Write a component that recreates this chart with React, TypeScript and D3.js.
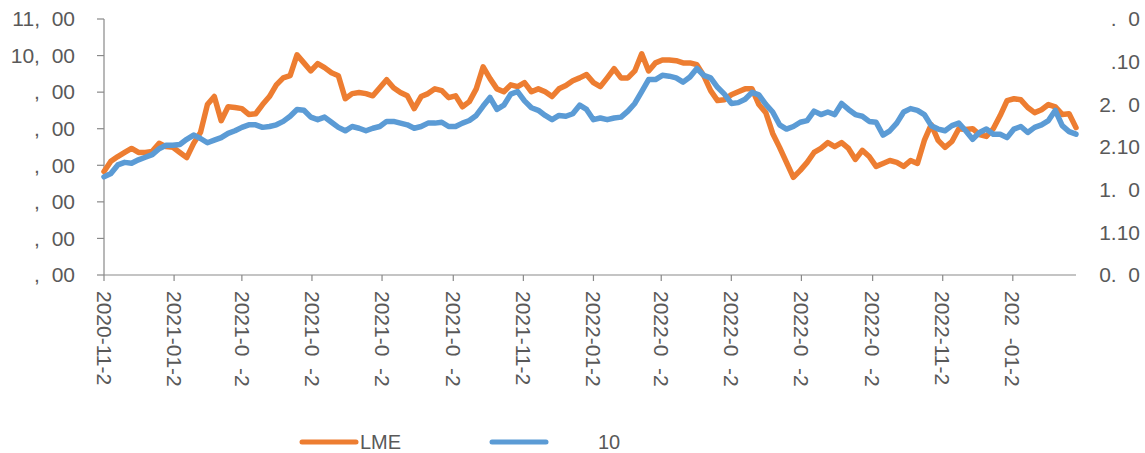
import React from 'react';
import * as d3 from 'd3';

// missing glyphs in the source picture are kept as blanks of digit width
const FS = '\u2007';

const startDate = new Date(2020, 10, 23);
const STEP_DAYS = 6;

const lmeCopper = [
  7330, 7610, 7740, 7850, 7960, 7850, 7850, 7880, 8100, 8010,
  7990, 7850, 7710, 8100, 8400, 9160, 9380, 8720, 9100, 9080,
  9050, 8890, 8910, 9160, 9380, 9700, 9890, 9950, 10520, 10300,
  10080, 10280, 10170, 10030, 9950, 9320, 9460, 9490, 9460, 9400,
  9620, 9840, 9620, 9490, 9400, 9050, 9380, 9460, 9590, 9540,
  9350, 9400, 9100, 9240, 9590, 10190, 9870, 9590, 9510, 9700,
  9650, 9760, 9510, 9590, 9510, 9380, 9590, 9680, 9810, 9890,
  9980, 9760, 9650, 9890, 10140, 9890, 9890, 10080, 10550, 10080,
  10300, 10380, 10380, 10360, 10300, 10300, 10250, 9950, 9540, 9270,
  9290, 9430, 9510, 9590, 9590, 9160, 8940, 8370, 7990, 7580,
  7170, 7360, 7580, 7850, 7960, 8120, 8010, 8120, 7960, 7660,
  7910, 7740, 7470, 7550, 7630, 7580, 7470, 7630, 7550, 8180,
  8610, 8180, 7990, 8150, 8500, 8480, 8500, 8340, 8290, 8500,
  8860, 9270, 9320, 9290, 9080, 8940, 9020, 9160, 9100, 8890,
  8910, 8530,
];

const breakeven10y = [
  1.75, 1.79, 1.89, 1.92, 1.91, 1.95, 1.98, 2.01, 2.08, 2.12,
  2.12, 2.13, 2.19, 2.24, 2.2, 2.15, 2.18, 2.21, 2.26, 2.29,
  2.33, 2.36, 2.36, 2.33, 2.34, 2.36, 2.4, 2.46, 2.54, 2.53,
  2.45, 2.42, 2.45, 2.39, 2.33, 2.29, 2.34, 2.32, 2.29, 2.32,
  2.34, 2.4, 2.4, 2.38, 2.36, 2.32, 2.34, 2.38, 2.38, 2.39,
  2.34, 2.34, 2.38, 2.41, 2.47, 2.58, 2.68, 2.54, 2.59, 2.72,
  2.75, 2.64, 2.56, 2.53, 2.47, 2.42, 2.47, 2.46, 2.49, 2.59,
  2.54, 2.42, 2.44, 2.42, 2.44, 2.45, 2.52, 2.61, 2.75, 2.89,
  2.89, 2.94, 2.93, 2.91, 2.86, 2.92, 3.02, 2.94, 2.91, 2.8,
  2.72, 2.61, 2.62, 2.66, 2.74, 2.71, 2.6, 2.51, 2.36, 2.31,
  2.34, 2.39, 2.41, 2.52, 2.48, 2.51, 2.48, 2.61, 2.54, 2.48,
  2.46, 2.4, 2.39, 2.24, 2.29, 2.38, 2.51, 2.55, 2.53, 2.48,
  2.35, 2.31, 2.29, 2.35, 2.38, 2.29, 2.19, 2.27, 2.31, 2.25,
  2.25, 2.21, 2.31, 2.34, 2.27, 2.33, 2.36, 2.41, 2.53, 2.35,
  2.28, 2.25,
];

const xTickLabels = [
  '2020-11-2', '2021-01-2', `2021-0${FS}-2`, `2021-0${FS}-2`, `2021-0${FS}-2`,
  `2021-0${FS}-2`, '2021-11-2', '2022-01-2', `2022-0${FS}-2`, `2022-0${FS}-2`,
  `2022-0${FS}-2`, `2022-0${FS}-2`, '2022-11-2', `202${FS}-01-2`,
];

const leftTickValues = [4500, 5500, 6500, 7500, 8500, 9500, 10500, 11500];
const leftTickLabels = [
  `${FS},${FS}00`, `${FS},${FS}00`, `${FS},${FS}00`, `${FS},${FS}00`,
  `${FS},${FS}00`, `${FS},${FS}00`, `10,${FS}00`, `11,${FS}00`,
];

const rightTickValues = [0.6, 1.1, 1.6, 2.1, 2.6, 3.1, 3.6];
const rightTickLabels = [`0.${FS}0`, '1.10', `1.${FS}0`, '2.10', `2.${FS}0`, `${FS}.10`, `${FS}.${FS}0`];

const seriesNames = ['LME', '10'];

export default function App() {
  const width = 1145;
  const height = 453;
  const margin = {top: 19, right: 69, bottom: 178, left: 104};
  const x0 = margin.left;
  const x1 = width - margin.right;
  const y0 = height - margin.bottom;
  const y1 = margin.top;

  const dates = lmeCopper.map((_, i) => d3.timeDay.offset(startDate, i * STEP_DAYS));
  const xScale = d3.scaleTime().domain([dates[0], dates[dates.length - 1]]).range([x0, x1]);
  const yLeft = d3.scaleLinear().domain([4500, 11500]).range([y0, y1]);
  const yRight = d3.scaleLinear().domain([0.6, 3.6]).range([y0, y1]);
  const tickDates = xTickLabels.map((_, i) => d3.timeMonth.offset(startDate, i * 2));

  const lineL = d3.line<number>().x((_, i) => xScale(dates[i])).y(d => yLeft(d));
  const lineR = d3.line<number>().x((_, i) => xScale(dates[i])).y(d => yRight(d));

  const axisColor = '#898989';
  const textColor = '#595959';
  const font = '"Liberation Sans", Arial, sans-serif';
  const orange = '#ED7D31';
  const blue = '#5B9BD5';

  return (
    <svg width={width} height={height} style={{position: 'absolute', left: 0, top: 0, background: '#fff'}}
         fontFamily={font}>
      <rect width={width} height={height} fill="#fff"/>
      {/* left axis */}
      <line x1={x0} x2={x0} y1={y1} y2={y0} stroke={axisColor} strokeWidth={1.2}/>
      {leftTickValues.map((v, i) => (
        <g key={'l' + i}>
          <line x1={x0 - 7} x2={x0} y1={yLeft(v)} y2={yLeft(v)} stroke={axisColor} strokeWidth={1.2}/>
          <text x={75} y={yLeft(v)} dy="0.35em" textAnchor="end" fontSize={21} fill={textColor}>
            {leftTickLabels[i]}
          </text>
        </g>
      ))}
      {/* right labels */}
      {rightTickValues.map((v, i) => (
        <text key={'r' + i} x={1140} y={yRight(v)} dy="0.35em" textAnchor="end" fontSize={21} fill={textColor}>
          {rightTickLabels[i]}
        </text>
      ))}
      {/* x axis */}
      <line x1={x0} x2={x1} y1={y0} y2={y0} stroke={axisColor} strokeWidth={1.2}/>
      {tickDates.map((d, i) => (
        <g key={'x' + i}>
          <line x1={xScale(d)} x2={xScale(d)} y1={y0} y2={y0 + 6} stroke={axisColor} strokeWidth={1.2}/>
          <text transform={`translate(${xScale(d)},${y0 + 16}) rotate(90)`} dy="0.35em"
                textAnchor="start" fontSize={21} fill={textColor}>
            {xTickLabels[i]}
          </text>
        </g>
      ))}
      {/* series */}
      <path d={lineL(lmeCopper) || ''} fill="none" stroke={orange} strokeWidth={5.5}
            strokeLinejoin="round" strokeLinecap="round"/>
      <path d={lineR(breakeven10y) || ''} fill="none" stroke={blue} strokeWidth={5.5}
            strokeLinejoin="round" strokeLinecap="round"/>
      {/* legend */}
      <line x1={302} x2={356} y1={442} y2={442} stroke={orange} strokeWidth={5} strokeLinecap="round"/>
      <text x={360} y={442} dy="0.35em" fontSize={20} fill={textColor}>{seriesNames[0]}</text>
      <line x1={492} x2={546} y1={442} y2={442} stroke={blue} strokeWidth={5} strokeLinecap="round"/>
      <text x={598} y={442} dy="0.35em" fontSize={20} fill={textColor}>{seriesNames[1]}</text>
    </svg>
  );
}
